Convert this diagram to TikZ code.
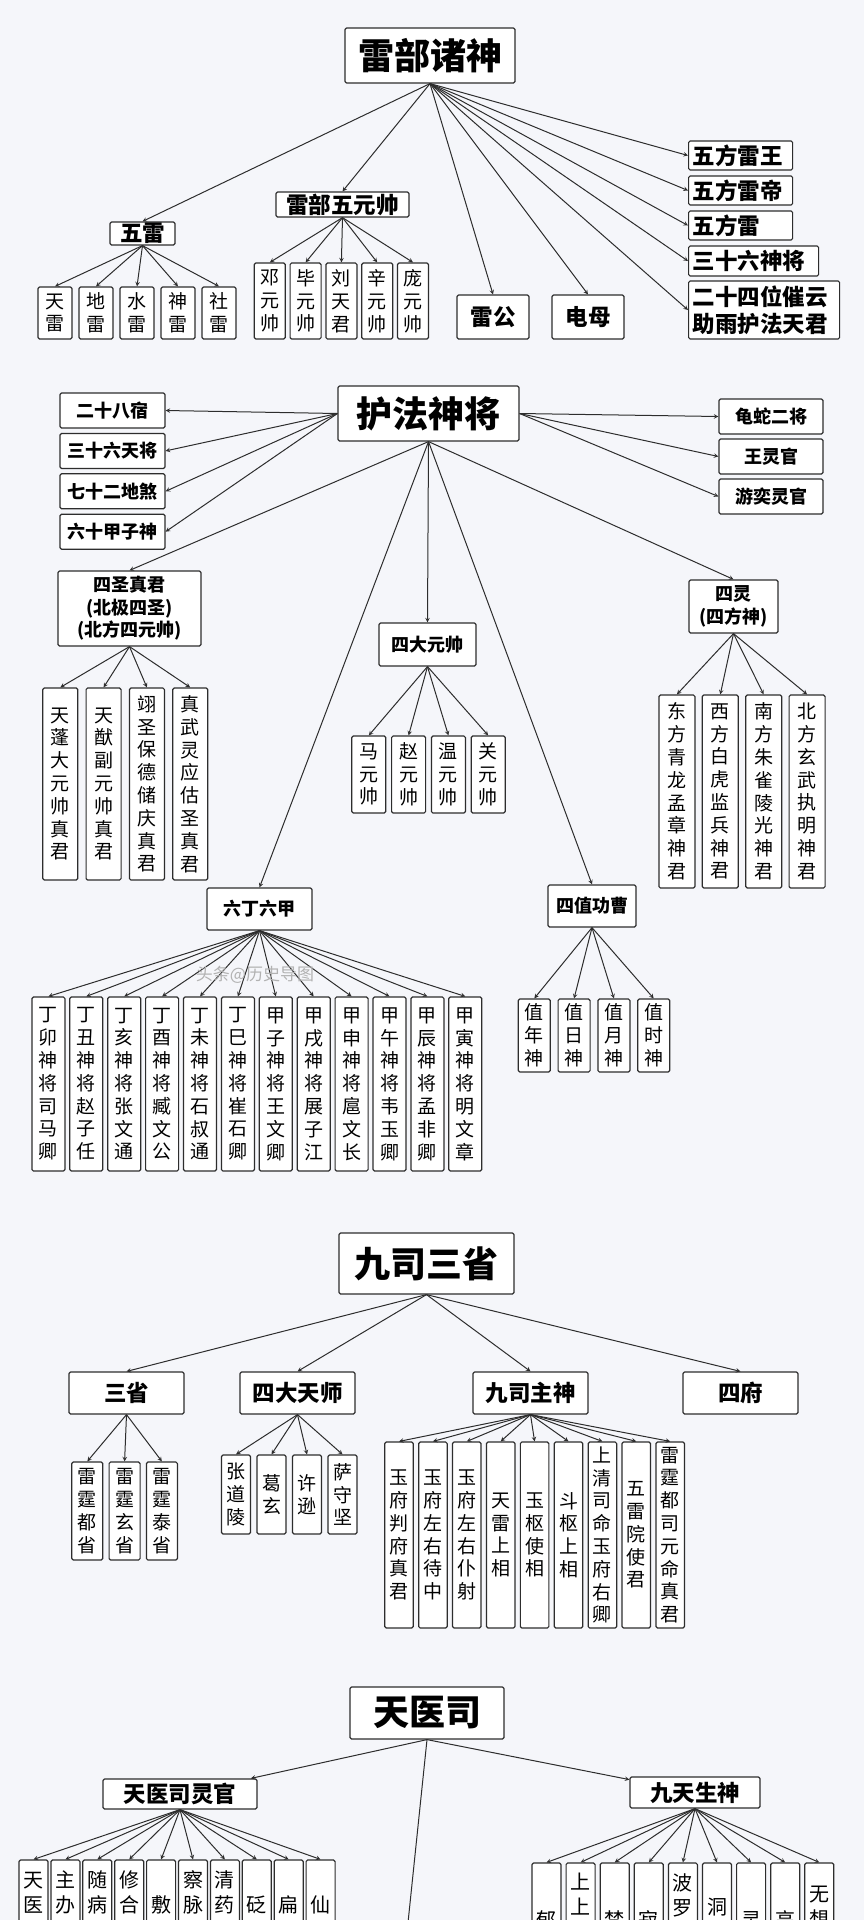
\documentclass[tikz,border=0pt]{standalone}
\usepackage{fontspec}
\setmainfont{Noto Sans CJK SC}
\makeatletter
\newcommand\vtext[1]{\def\vt@out{}\def\vt@sep{}\expandafter\vt@loop\expandafter{#1}\vt@out}
\def\vt@loop#1{\@tfor\vt@c:=#1\do{%
	\edef\vt@out{\unexpanded\expandafter{\vt@out}\vt@sep\unexpanded\expandafter{\vt@c}}%
	\def\vt@sep{\noexpand\\}}}
\makeatother
\newcommand\gap{}
\definecolor{paper}{RGB}{245,246,250}
\definecolor{ink}{RGB}{45,45,45}
\begin{document}
\begin{tikzpicture}[x=1pt, y=-1pt, line join=round, >=stealth,
	box/.style={draw=ink, fill=white, rounded corners=1.5pt, line width=1.2pt, inner sep=0pt},
	head/.style={box, font=\fontsize{36}{40}\selectfont\bfseries},
	sub/.style={box, font=\fontsize{22.5}{27}\selectfont\bfseries, align=center},
	small/.style={box, font=\fontsize{18}{22.5}\selectfont\bfseries, align=center},
	leaf/.style={box, font=\fontsize{19}{22.8}\selectfont, align=center},
	leafb/.style={leaf, font=\fontsize{20}{25}\selectfont},
	link/.style={->, draw=ink, line width=1pt}]
	\path[fill=paper, use as bounding box] (0,0) rectangle (864,1920);
	\clip (0,0) rectangle (864,1920);
	
	% 雷部诸神
	\node[head, minimum width=170, minimum height=55] (leibu) at (430,55.5) {雷部诸神};
	\node[sub, minimum width=65, minimum height=23] (wulei) at (142.5,233.5) {五雷};
	\node[sub, minimum width=133, minimum height=25] (wuyuan) at (342.5,204.5) {雷部五元帅};
	\node[sub, minimum width=72, minimum height=44] (leigong) at (493,317) {雷公};
	\node[sub, minimum width=72, minimum height=44] (dianmu) at (588,317) {电母};
	\begin{scope}[every node/.append style={sub, anchor=west, align=left, inner xsep=4pt}]
		\node[text width=96, minimum height=29] (lw1) at (688,155.5) {五方雷王};
		\node[text width=96, minimum height=29] (lw2) at (688,190.5) {五方雷帝};
		\node[text width=96, minimum height=29] (lw3) at (688,225.5) {五方雷};
		\node[text width=122, minimum height=30] (lw4) at (688,261) {三十六神将};
		\node[text width=143, minimum height=58] (lw5) at (688,310) {二十四位催云\\助雨护法天君};
	\end{scope}
	\foreach \n in {wulei,wuyuan,leigong,dianmu} \draw[link] (leibu.south) -- (\n.north);
	\foreach \i in {1,...,5} \draw[link] (leibu.south) -- (lw\i.west);
	\foreach \t [count=\i] in {天雷,地雷,水雷,神雷,社雷}{
		\node[leaf, minimum width=34, minimum height=52] (wl\i) at ({14+41*\i},313) {\vtext{\t}};
		\draw[link] (wulei.south) -- (wl\i.north);
	}
	\foreach \t [count=\i] in {邓元帅,毕元帅,刘天君,辛元帅,庞元帅}{
		\node[leaf, minimum width=31, minimum height=76] (wy\i) at ({234+35.8*\i},301) {\vtext{\t}};
		\draw[link] (wuyuan.south) -- (wy\i.north);
	}
	
	% 护法神将
	\node[head, minimum width=181, minimum height=55] (hufa) at (428.5,413.5) {护法神将};
	\foreach \t [count=\i] in {二十八宿,三十六天将,七十二地煞,六十甲子神}{
		\node[small, minimum width=105, minimum height=35] (hl\i) at (112.5,{370.1+40.4*\i}) {\t};
		\draw[link] (hufa.west) -- (hl\i.east);
	}
	\foreach \t [count=\i] in {龟蛇二将,王灵官,游奕灵官}{
		\node[small, minimum width=104, minimum height=35] (hr\i) at (771,{376.5+40*\i}) {\t};
		\draw[link] (hufa.east) -- (hr\i.west);
	}
	\node[small, minimum width=143, minimum height=75] (sisheng) at (129.5,608.5) {四圣真君\\(北极四圣)\\(北方四元帅)};
	\node[small, minimum width=97, minimum height=43] (sida) at (427.5,644.5) {四大元帅};
	\node[small, minimum width=89, minimum height=53] (siling) at (733.5,606.5) {四灵\\(四方神)};
	\node[small, minimum width=105, minimum height=42] (liuding) at (259.5,909) {六丁六甲};
	\node[small, minimum width=88, minimum height=42] (sizhi) at (592,906) {四值功曹};
	\foreach \n in {sisheng,sida,siling,liuding,sizhi} \draw[link] (hufa.south) -- (\n.north);
	\foreach \t [count=\i] in {天蓬大元帅真君,天猷副元帅真君,翊圣保德储庆真君,真武灵应估圣真君}{
		\node[leaf, minimum width=35, minimum height=192] (ss\i) at ({17+43.3*\i},784) {\vtext{\t}};
		\draw[link] (sisheng.south) -- (ss\i.north);
	}
	\foreach \t [count=\i] in {马元帅,赵元帅,温元帅,关元帅}{
		\node[leaf, minimum width=34, minimum height=77] (sd\i) at ({329+39.8*\i},774.5) {\vtext{\t}};
		\draw[link] (sida.south) -- (sd\i.north);
	}
	\foreach \t [count=\i] in {东方青龙孟章神君,西方白虎监兵神君,南方朱雀陵光神君,北方玄武执明神君}{
		\node[leaf, minimum width=36, minimum height=193] (sl\i) at ({633.5+43.4*\i},791.5) {\vtext{\t}};
		\draw[link] (siling.south) -- (sl\i.north);
	}
	\foreach \t [count=\i] in {丁卯神将司马卿,丁丑神将赵子任,丁亥神将张文通,丁酉神将臧文公,丁未神将石叔通,丁巳神将崔石卿,
		甲子神将王文卿,甲戌神将展子江,甲申神将扈文长,甲午神将韦玉卿,甲辰神将孟非卿,甲寅神将明文章}{
		\node[leaf, minimum width=33, minimum height=174] (ld\i) at ({10.5+37.9*\i},1084) {\vtext{\t}};
		\draw[link] (liuding.south) -- (ld\i.north);
	}
	\node[text=gray!60, font=\fontsize{17}{17}\selectfont] (mark) at (255,975) {头条@历史导图};
	\foreach \t [count=\i] in {值年神,值日神,值月神,值时神}{
		\node[leaf, minimum width=32, minimum height=73] (sz\i) at ({494.5+39.8*\i},1035.5) {\vtext{\t}};
		\draw[link] (sizhi.south) -- (sz\i.north);
	}
	
	% 九司三省
	\node[head, minimum width=175, minimum height=61] (jiusi) at (426.5,1263.5) {九司三省};
	\node[sub, minimum width=115, minimum height=42] (sansheng) at (126.5,1393) {三省};
	\node[sub, minimum width=115, minimum height=42] (tianshi) at (297.5,1393) {四大天师};
	\node[sub, minimum width=115, minimum height=42] (zhushen) at (530.5,1393) {九司主神};
	\node[sub, minimum width=115, minimum height=42] (sifu) at (740.5,1393) {四府};
	\foreach \n in {sansheng,tianshi,zhushen,sifu} \draw[link] (jiusi.south) -- (\n.north);
	\foreach \t [count=\i] in {雷霆都省,雷霆玄省,雷霆泰省}{
		\node[leaf, minimum width=31, minimum height=98] (sh\i) at ({50+37.3*\i},1511) {\vtext{\t}};
		\draw[link] (sansheng.south) -- (sh\i.north);
	}
	\foreach \t [count=\i] in {张道陵,葛玄,许逊,萨守坚}{
		\node[leaf, minimum width=29, minimum height=79] (ts\i) at ({200.5+35.5*\i},1494.5) {\vtext{\t}};
		\draw[link] (tianshi.south) -- (ts\i.north);
	}
	\foreach \t [count=\i] in {玉府判府真君,玉府左右待中,玉府左右仆射,天雷上相,玉枢使相,斗枢上相,上清司命玉府右卿,五雷院使君,雷霆都司元命真君}{
		\node[leaf, minimum width=28.5, minimum height=186] (zs\i) at ({365.1+33.9*\i},1535) {\vtext{\t}};
		\draw[link] (zhushen.south) -- (zs\i.north);
	}
	
	% 天医司
	\node[head, minimum width=154, minimum height=52] (tianyi) at (427,1713) {天医司};
	\node[sub, minimum width=154, minimum height=30] (lingguan) at (180,1794) {天医司灵官};
	\node[sub, minimum width=130, minimum height=31] (shengshen) at (695,1792.5) {九天生神};
	\coordinate (tianyidown) at (401,1990);
	\foreach \n in {lingguan,shengshen,tianyidown} \draw[link] (tianyi.south) -- (\n);
	\foreach \t [count=\i] in {天医尚\gap\gap\gap\gap\gap,主办形\gap\gap\gap\gap\gap,随病制\gap\gap\gap\gap\gap,修合钿\gap\gap\gap\gap\gap,
		敷药\gap\gap\gap\gap,察脉诊\gap\gap\gap\gap\gap,清药病\gap\gap\gap\gap\gap,砭石\gap\gap\gap\gap,扁鹊\gap\gap\gap\gap,仙药\gap\gap\gap\gap}{
		\node[leafb, minimum width=29, minimum height=214] (lg\i) at ({1.6+31.9*\i},1967) {\vtext{\t}};
		\draw[link] (lingguan.south) -- (lg\i.north);
	}
	\foreach \t [count=\i] in {郁单无量天,上上禅善无量寿天,梵监须延天,寂然兜术天,波罗尼密不骄乐天,洞元化应声天,灵化梵辅天,高虚清明天,无想无结无爱天}{
		\node[leafb, minimum width=29, minimum height=214] (jt\i) at ({512.4+34.1*\i},1970) {\vtext{\t}};
		\draw[link] (shengshen.south) -- (jt\i.north);
	}
\end{tikzpicture}
\end{document}
